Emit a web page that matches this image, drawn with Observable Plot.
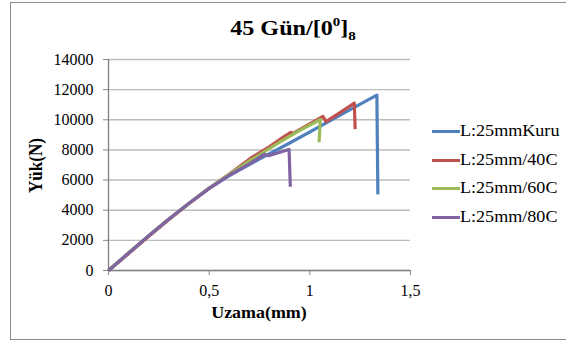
<!DOCTYPE html>
<html><head><meta charset="utf-8">
<script src="https://cdn.jsdelivr.net/npm/d3@7"></script>
<script src="https://cdn.jsdelivr.net/npm/@observablehq/plot@0.6"></script>
<style>
body{margin:0;background:#fff;}
#wrap, #wrap *{font-family:"Liberation Serif","Times New Roman",Times,"DejaVu Serif",serif;}
#wrap{position:relative;width:566px;height:345px;overflow:hidden;color:#000;}
#frame{position:absolute;left:10px;top:2px;width:640px;height:338px;border:1.6px solid #8c8c8c;box-sizing:border-box;}
#chart{position:absolute;left:0;top:0;}
#title{position:absolute;left:143px;width:300px;top:18px;text-align:center;font-weight:bold;font-size:21px;line-height:21px;white-space:nowrap;transform:scaleX(1.15);}
#title .sup{font-size:13px;position:relative;top:-9px;}
#title .sub{font-size:13px;position:relative;top:5px;}
.axt{position:absolute;font-weight:bold;font-size:16px;line-height:16px;white-space:nowrap;text-align:center;}
#xlab{left:159px;width:200px;top:305px;transform:scaleX(1.12);}
#ylab{left:-64px;width:200px;top:157px;font-size:17px;line-height:17px;transform:rotate(-90deg) scaleY(1.05);}
#legend{position:absolute;left:432px;top:0;}
.lrow{position:absolute;left:0;height:20px;display:flex;align-items:center;white-space:nowrap;}
.lsw{width:28px;height:3px;}
.ltx{font-size:16px;line-height:16px;transform:scaleX(1.13);transform-origin:left center;}
#chart svg text{font-family:"Liberation Serif","Times New Roman",Times,"DejaVu Serif",serif;}
</style></head>
<body>
<div id="wrap">
  <div id="frame"></div>
  <div id="chart"></div>
  <div id="title">45 Gün/[0<span class="sup">0</span>]<span class="sub">8</span></div>
  <div id="xlab" class="axt">Uzama(mm)</div>
  <div id="ylab" class="axt">Yük(N)</div>
  <div id="legend"></div>
</div>
<script>
// Series names and colours
const seriesNames = ["L:25mmKuru", "L:25mm/40C", "L:25mm/60C", "L:25mm/80C"];
const seriesColors = ["#4F81BD", "#C0504D", "#9BBB59", "#8064A2"];

// Axis ticks
const xTicks = [0, 0.5, 1, 1.5];
const yTicks = [0, 2000, 4000, 6000, 8000, 10000, 12000, 14000];

// Values (Uzama mm, Yük N)
const kuruX = [0, 0.1, 0.2, 0.3, 0.4, 0.5, 0.6, 0.706, 0.8, 0.9, 1.039, 1.2, 1.333, 1.338];
const kuruY = [0, 1150, 2290, 3400, 4450, 5450, 6300, 7080, 7760, 8460, 9480, 10680, 11640, 5050];

const c40X = [0, 0.1, 0.2, 0.3, 0.4, 0.5, 0.6, 0.706, 0.8, 0.872, 0.906, 0.915, 0.956, 1.065, 1.08, 1.15, 1.221, 1.225];
const c40Y = [0, 1130, 2270, 3380, 4440, 5460, 6400, 7450, 8220, 8880, 9170, 9080, 9400, 10230, 9880, 10480, 11100, 9380];

const c60X = [0, 0.1, 0.2, 0.3, 0.4, 0.5, 0.6, 0.706, 0.85, 0.95, 1.052, 1.046];
const c60Y = [0, 1180, 2310, 3420, 4460, 5470, 6390, 7320, 8520, 9300, 10020, 8510];

const c80X = [0, 0.1, 0.2, 0.3, 0.4, 0.5, 0.6, 0.706, 0.775, 0.795, 0.88, 0.897, 0.903];
const c80Y = [0, 1160, 2300, 3420, 4460, 5450, 6320, 7120, 7720, 7620, 7960, 8020, 5560];

const seriesData = [[kuruX, kuruY], [c40X, c40Y], [c60X, c60Y], [c80X, c80Y]];
const rows = [];
seriesData.forEach(([xs, ys], k) => xs.forEach((x, i) => rows.push({s: seriesNames[k], x, y: ys[i]})));

const serif = "'Liberation Serif','Times New Roman',Times,'DejaVu Serif',serif";
const chart = Plot.plot({
  width: 566,
  height: 345,
  marginLeft: 108,
  marginRight: 156,
  marginTop: 59,
  marginBottom: 75,
  style: {background: "transparent", fontFamily: serif, fontSize: "16px", color: "#000", overflow: "visible"},
  x: {domain: [0, 1.5], label: null},
  y: {domain: [0, 14000], label: null},
  color: {domain: seriesNames, range: seriesColors},
  marks: [
    Plot.gridY(yTicks, {stroke: "#bdbdbd", strokeOpacity: 1, strokeWidth: 1.4}),
    Plot.ruleX([0], {stroke: "#868686", strokeWidth: 1.4}),
    Plot.ruleY([0], {stroke: "#868686", strokeWidth: 1.4}),
    Plot.axisY(yTicks, {tickSize: 5, tickPadding: 10, stroke: "#868686", fill: "#000", fontSize: 16, tickFormat: d => String(d), label: null}),
    Plot.axisX(xTicks, {tickSize: 5, tickPadding: 9, stroke: "#868686", fill: "#000", fontSize: 16, tickFormat: d => String(d).replace(".", ","), label: null}),
    Plot.line(rows, {x: "x", y: "y", z: "s", stroke: "s", strokeWidth: 3.2, strokeLinejoin: "round", strokeLinecap: "butt"})
  ]
});
document.getElementById("chart").appendChild(chart);

// Legend
const legendTops = [121, 150, 178, 207];
const legend = d3.select("#legend");
seriesNames.forEach((name, i) => {
  const row = legend.append("div").attr("class", "lrow").style("top", legendTops[i] + "px");
  row.append("div").attr("class", "lsw").style("background", seriesColors[i]);
  row.append("div").attr("class", "ltx").text(name);
});
</script>
</body></html>
